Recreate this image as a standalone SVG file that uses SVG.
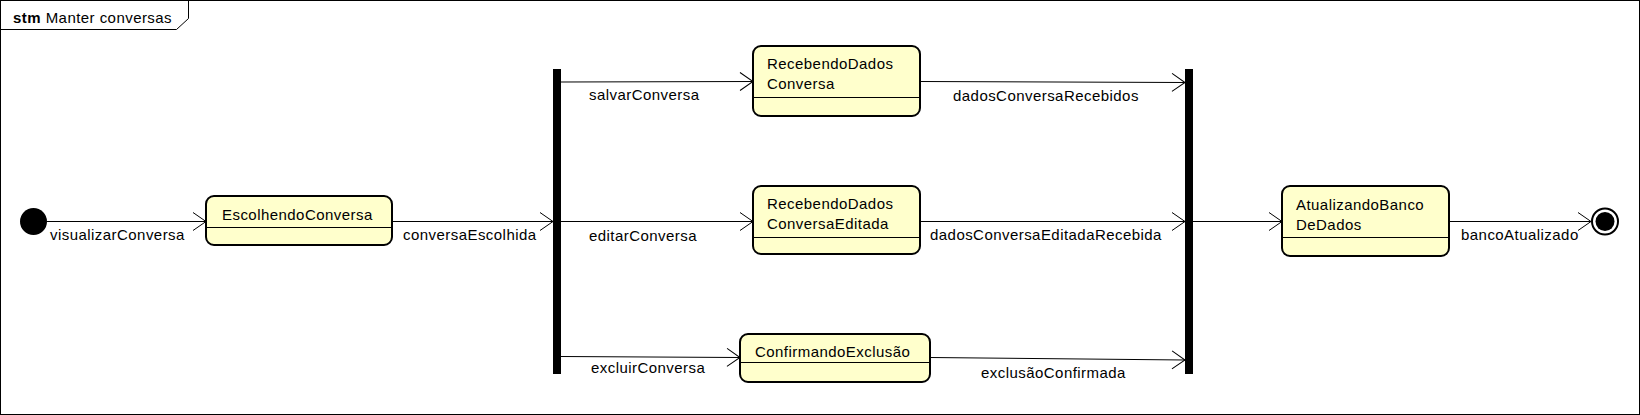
<svg xmlns="http://www.w3.org/2000/svg" width="1640" height="415" viewBox="0 0 1640 415">
<style>
text{font-family:"Liberation Sans",Arial,sans-serif;font-size:15px;letter-spacing:0.45px;fill:#000}
.st{fill:#ffffcc;stroke:#000;stroke-width:2}
.cmp{stroke:#000;stroke-width:1}
.bar{fill:#000}
.c{fill:none;stroke:#000;stroke-width:1;marker-end:url(#arr)}
</style>
<defs>
<marker id="arr" markerUnits="userSpaceOnUse" viewBox="-15 -10 17 20" markerWidth="17" markerHeight="20" refX="0" refY="0" orient="auto">
<path d="M-13,-9 L0,0 L-13,9" fill="none" stroke="#000" stroke-width="1"/>
</marker>
</defs>
<rect x="0.5" y="0.5" width="1639" height="414" fill="#fff" stroke="#000" stroke-width="1"/>
<g id="frame-title">
<path d="M0.5,29.5 H176.5 L188.5,18.5 V0.5" fill="none" stroke="#000" stroke-width="1"/>
<text x="13" y="23"><tspan font-weight="bold">stm</tspan> Manter conversas</text>
</g>
<g id="connectors">
<line class="c" x1="47" y1="221.5" x2="206" y2="221.5"/>
<line class="c" x1="392" y1="221.5" x2="553" y2="221.5"/>
<line class="c" x1="561" y1="82" x2="753" y2="81.5"/>
<line class="c" x1="561" y1="221.5" x2="753" y2="221.5"/>
<line class="c" x1="561" y1="356.5" x2="740" y2="357.5"/>
<line class="c" x1="920" y1="81.5" x2="1185" y2="82.5"/>
<line class="c" x1="920" y1="221.5" x2="1185" y2="221.5"/>
<line class="c" x1="930" y1="357.5" x2="1185" y2="360"/>
<line class="c" x1="1193" y1="221.5" x2="1282" y2="221.5"/>
<line class="c" x1="1449" y1="221.5" x2="1591" y2="221.5"/>
<text x="50" y="240">visualizarConversa</text>
<text x="403" y="240">conversaEscolhida</text>
<text x="589" y="100">salvarConversa</text>
<text x="589" y="241">editarConversa</text>
<text x="591" y="373">excluirConversa</text>
<text x="953" y="101">dadosConversaRecebidos</text>
<text x="930" y="240">dadosConversaEditadaRecebida</text>
<text x="981" y="378">exclusãoConfirmada</text>
<text x="1461" y="240">bancoAtualizado</text>
</g>
<g id="initial">
<circle cx="33.5" cy="221.5" r="13.5" fill="#000"/>
</g>
<g id="EscolhendoConversa">
<rect class="st" x="206" y="196" width="186" height="49" rx="8"/>
<line class="cmp" x1="207" y1="227.5" x2="391" y2="227.5"/>
<text x="222" y="220">EscolhendoConversa</text>
</g>
<g id="fork1">
<rect class="bar" x="553" y="69" width="8" height="305"/>
</g>
<g id="RecebendoDadosConversa">
<rect class="st" x="753" y="46" width="167" height="70" rx="8"/>
<line class="cmp" x1="754" y1="97.5" x2="919" y2="97.5"/>
<text x="767" y="69">RecebendoDados</text>
<text x="767" y="89">Conversa</text>
</g>
<g id="RecebendoDadosConversaEditada">
<rect class="st" x="753" y="186" width="167" height="68" rx="8"/>
<line class="cmp" x1="754" y1="237.5" x2="919" y2="237.5"/>
<text x="767" y="209">RecebendoDados</text>
<text x="767" y="229">ConversaEditada</text>
</g>
<g id="ConfirmandoExclusao">
<rect class="st" x="740" y="334" width="190" height="48" rx="8"/>
<line class="cmp" x1="741" y1="362.5" x2="929" y2="362.5"/>
<text x="755" y="357">ConfirmandoExclusão</text>
</g>
<g id="join2">
<rect class="bar" x="1185" y="69" width="8" height="305"/>
</g>
<g id="AtualizandoBancoDeDados">
<rect class="st" x="1282" y="186" width="167" height="70" rx="8"/>
<line class="cmp" x1="1283" y1="237.5" x2="1448" y2="237.5"/>
<text x="1296" y="210">AtualizandoBanco</text>
<text x="1296" y="230">DeDados</text>
</g>
<g id="final">
<circle cx="1605" cy="221.5" r="13" fill="#fff" stroke="#000" stroke-width="2"/>
<circle cx="1605" cy="221.5" r="9.5" fill="#000"/>
</g>
</svg>
